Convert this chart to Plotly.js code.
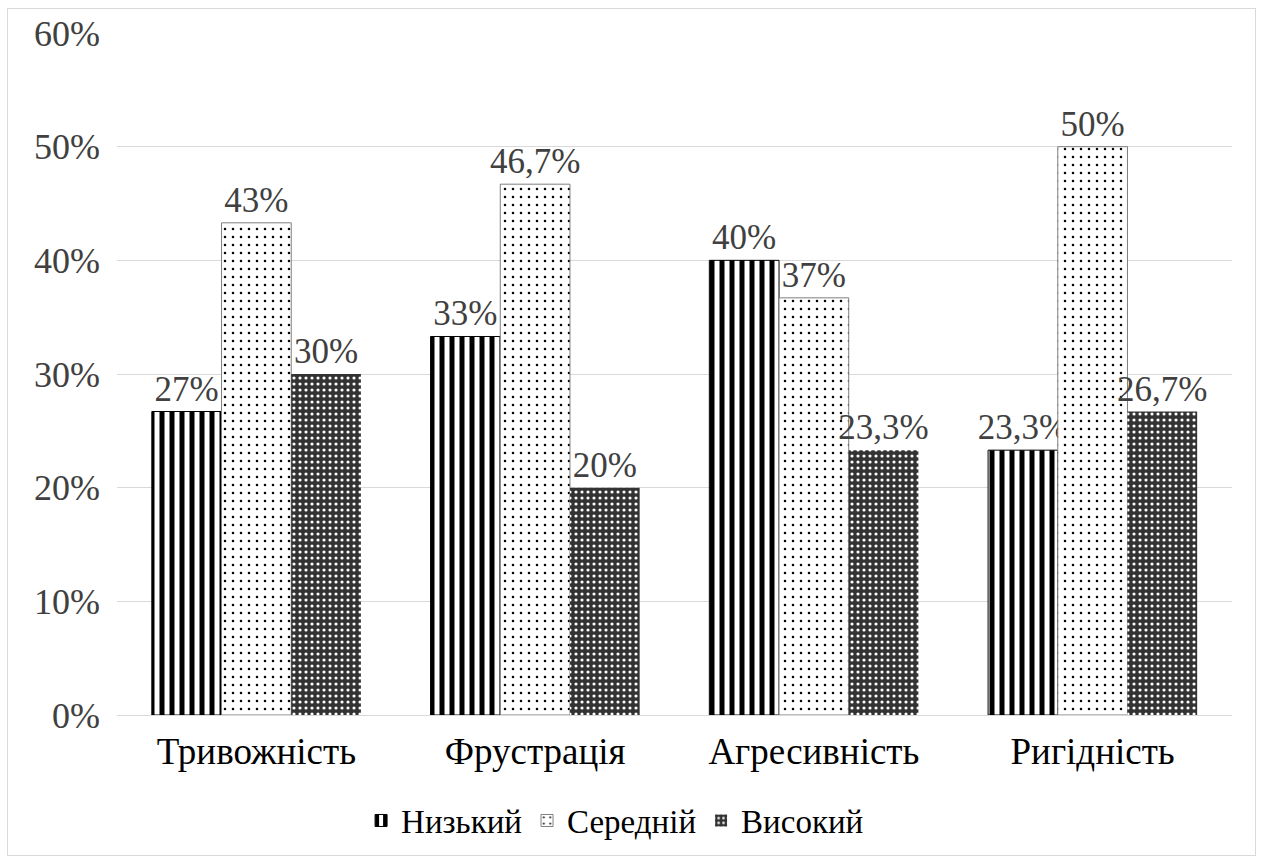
<!DOCTYPE html>
<html>
<head>
<meta charset="utf-8">
<script src="https://cdn.plot.ly/plotly-3.0.1.min.js"></script>
<style>
  html, body { margin: 0; padding: 0; background: #fff; }
  #wrap { position: relative; width: 1263px; height: 861px; }
  #chart { width: 1263px; height: 861px; }
  #chart text { font-family: 'Liberation Serif', 'Times New Roman', serif !important; }
  #frame { position: absolute; left: 7px; top: 8px; width: 1247px; height: 846px;
           border: 1px solid #d9d9d9; pointer-events: none; }
</style>
</head>
<body>
<div id="wrap"><div id="chart"></div><div id="frame"></div></div>
<script>
const categories = ["Тривожність", "Фрустрація", "Агресивність", "Ригідність"];
const seriesNames = ["Низький", "Середній", "Високий"];
const lowValues = [26.7, 33.3, 40, 23.3];
const midValues = [43.3, 46.7, 36.7, 50];
const highValues = [30, 20, 23.3, 26.7];
const lowLabels = ["27%", "33%", "40%", "23,3%"];
const midLabels = ["43%", "46,7%", "37%", "50%"];
const highLabels = ["30%", "20%", "23,3%", "26,7%"];

const FONT = "Liberation Serif";
const labelFont = { family: FONT, size: 35, color: "#404040" };

function bar(name, y, text, marker) {
  return {
    type: "bar", name: name, x: categories, y: y, text: text,
    textposition: "outside", textfont: labelFont, cliponaxis: false,
    constraintext: "none", hoverinfo: "skip", marker: marker
  };
}

const data = [
  bar(seriesNames[0], lowValues, lowLabels, {
    color: "white",
    line: { color: "#000", width: 1 },
    pattern: { shape: "|", fgcolor: "#000", bgcolor: "#fff", size: 10, solidity: 0.5 }
  }),
  bar(seriesNames[1], midValues, midLabels, {
    color: "white",
    line: { color: "#7f7f7f", width: 1 },
    pattern: { shape: ".", fgcolor: "#000", bgcolor: "#fff", size: 8, solidity: 0.08 }
  }),
  bar(seriesNames[2], highValues, highLabels, {
    color: "#444",
    line: { color: "#444", width: 0 },
    pattern: { shape: ".", fgcolor: "#ffffff", bgcolor: "#333333", size: 6, solidity: 0.22 }
  })
];

const layout = {
  width: 1263, height: 861,
  margin: { l: 117, r: 31, t: 33, b: 146 },
  paper_bgcolor: "#fff", plot_bgcolor: "#fff",
  barmode: "group", bargap: 0.25, bargroupgap: 0,
  font: { family: FONT, color: "#000", size: 30 },
  xaxis: {
    tickfont: { family: FONT, size: 37, color: "#000" },
    showgrid: false, showline: true, linecolor: "#d9d9d9", linewidth: 1,
    ticks: "", ticklabelstandoff: 4, fixedrange: true
  },
  yaxis: {
    range: [0, 60], dtick: 10, ticksuffix: "%",
    tickfont: { family: FONT, size: 36, color: "#404040" },
    showgrid: true, gridcolor: "#d9d9d9", gridwidth: 1,
    zeroline: false, showline: false, ticks: "", ticklabelstandoff: 16,
    fixedrange: true
  },
  legend: {
    orientation: "h", xref: "container", yref: "container",
    x: 0.487, xanchor: "center", y: 0.047, yanchor: "middle",
    font: { family: FONT, size: 33, color: "#000" },
    itemwidth: 30, tracegroupgap: 0
  },
  showlegend: true
};

Plotly.newPlot("chart", data, layout, { displayModeBar: false });
</script>
</body>
</html>
